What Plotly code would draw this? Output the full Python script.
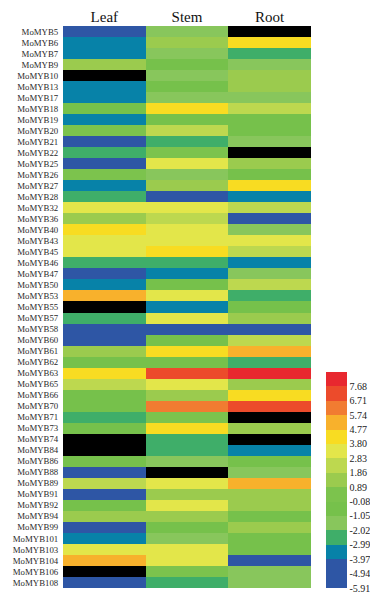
import plotly.graph_objects as go

genes = ["MoMYB5", "MoMYB6", "MoMYB7", "MoMYB9", "MoMYB10", "MoMYB13", "MoMYB17", "MoMYB18",
         "MoMYB19", "MoMYB20", "MoMYB21", "MoMYB22", "MoMYB25", "MoMYB26", "MoMYB27", "MoMYB28",
         "MoMYB32", "MoMYB36", "MoMYB40", "MoMYB43", "MoMYB45", "MoMYB46", "MoMYB47", "MoMYB50",
         "MoMYB53", "MoMYB55", "MoMYB57", "MoMYB58", "MoMYB60", "MoMYB61", "MoMYB62", "MoMYB63",
         "MoMYB65", "MoMYB66", "MoMYB70", "MoMYB71", "MoMYB73", "MoMYB74", "MoMYB84", "MoMYB86",
         "MoMYB88", "MoMYB89", "MoMYB91", "MoMYB92", "MoMYB94", "MoMYB99", "MoMYB101", "MoMYB103",
         "MoMYB104", "MoMYB106", "MoMYB108"]

tissues = ["Leaf", "Stem", "Root"]

# None = not detected (drawn black)
leaf = [-5.12, -3.45, -3.62, 1.24, None, -3.30, -3.51, -0.52, -3.71, 0.31, -4.86, -2.44,
        -5.03, 0.12, -3.38, -2.61, 3.25, 1.42, 4.15, 3.36, 3.12, -2.37, -5.44, -3.57,
        5.18, None, -2.73, -5.31, -4.69, 1.58, -0.37, 4.02, 2.41, -0.66, -0.44, -2.28,
        -0.71, None, None, -0.29, -5.58, 2.20, -4.77, -0.85, 1.13, -5.26, -3.19, 3.48,
        5.37, None, -5.07]

stem = [-1.46, 1.31, -1.62, -0.48, -1.28, -0.63, -1.71, 4.33, -0.39, 2.27, -2.56, 0.47,
        3.41, -1.35, 1.09, -5.17, 3.22, 2.48, 3.09, 3.57, 4.41, -2.33, -3.66, -0.77,
        3.14, -3.42, 3.29, -4.98, -0.55, 4.18, -0.91, 7.04, 3.63, 1.47, 6.12, 0.22,
        4.26, -2.47, -2.39, -1.19, None, 3.18, 1.36, 3.44, 1.02, -0.34, -1.57, 3.31,
        3.52, 0.58, -2.65]

root = [None, 4.24, -2.51, -1.24, 1.18, 1.29, -1.41, 2.36, -0.62, -0.27, -1.53, None,
        1.44, -0.45, 4.37, -3.28, 2.54, -5.22, -1.66, 3.38, 2.12, -3.53, -1.32, 2.62,
        -2.42, -0.58, 1.21, -5.09, 2.29, 5.29, -2.35, 8.02, 1.37, 4.11, 7.26, None,
        1.15, None, -3.61, -0.69, -1.48, 5.06, 1.52, 1.26, -0.41, 1.33, -0.52, -0.36,
        -4.81, -1.37, -1.44]

scale_ticks = [-5.91, -4.94, -3.97, -2.99, -2.02, -1.05, -0.08, 0.89, 1.86, 2.83,
               3.80, 4.77, 5.74, 6.71, 7.68]

step_colors = ["#2e56a5", "#2e56a5", "#0782a8", "#3fae69", "#88c65c", "#76c14b", "#7cc34d",
               "#9bcb4e", "#bdd84f", "#e3e64a", "#f8dc22", "#f8b12c", "#f17c31", "#ec4b2b",
               "#e8282f"]

n = len(step_colors)
colorscale = []
for i, c in enumerate(step_colors):
    colorscale.append([i / n, c])
    colorscale.append([(i + 1) / n, c])

zmin = scale_ticks[0]
zmax = scale_ticks[-1] + (scale_ticks[-1] - scale_ticks[-2])

z = [[leaf[i], stem[i], root[i]] for i in range(len(genes))]

# page body adds an 8px offset; figure is sized/placed to compensate
plot_w = 311 - 63

fig = go.Figure(go.Heatmap(
    z=z, x=tissues, y=genes,
    colorscale=colorscale, zmin=zmin, zmax=zmax,
    hoverongaps=False,
    colorbar=dict(
        x=(326 - 63) / plot_w, xanchor="left", xpad=0,
        y=0, yanchor="bottom", ypad=0,
        lenmode="pixels", len=216,
        thicknessmode="pixels", thickness=21,
        outlinewidth=0,
        tickvals=scale_ticks,
        ticktext=[f"{v:.2f}" for v in scale_ticks],
        ticks="",
        tickfont=dict(family="Liberation Serif", size=10, color="#222"),
    ),
))

fig.update_layout(
    width=370, height=590,
    margin=dict(l=55, r=370 - 55 - plot_w, t=18, b=10),
    paper_bgcolor="white",
    plot_bgcolor="black",
    showlegend=False,
)
fig.update_xaxes(side="top", showgrid=False, zeroline=False, ticks="", automargin=False,
                 tickfont=dict(family="Liberation Serif", size=15, color="#111"))
fig.update_yaxes(autorange="reversed", showgrid=False, zeroline=False,
                 ticks="outside", ticklen=2, tickcolor="rgba(0,0,0,0)",
                 automargin=False,
                 tickfont=dict(family="Liberation Serif", size=8.8, color="#2a2a2a"))

fig.write_html("out.html")
